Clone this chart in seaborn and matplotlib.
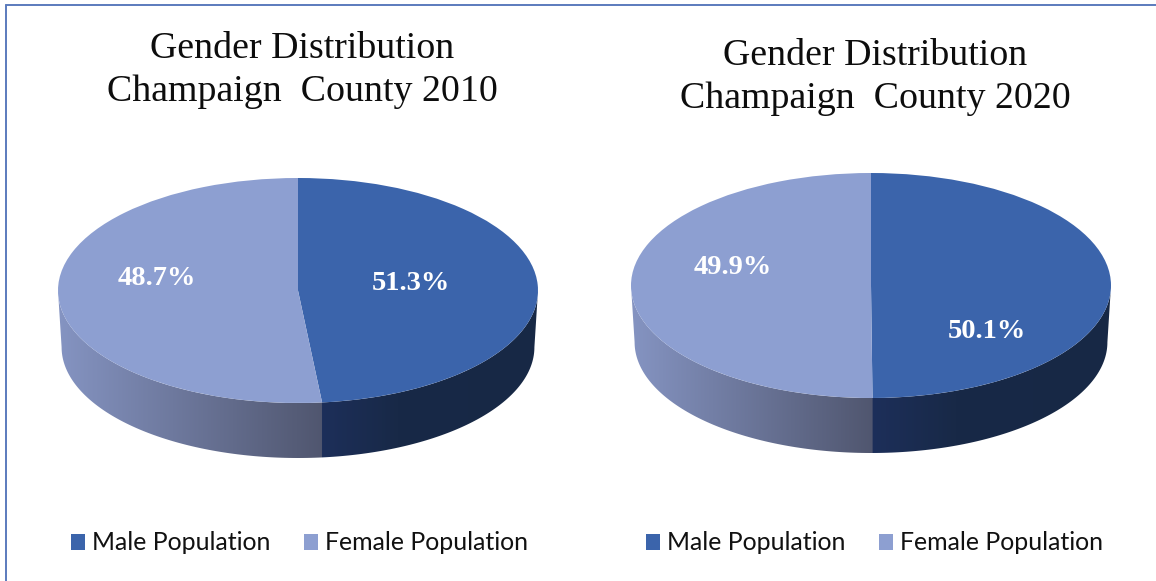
import numpy as np
import seaborn as sns
import matplotlib.pyplot as plt
from matplotlib.colors import to_rgb
from matplotlib.patches import Polygon

W, H = 1156, 581

years = ['2010', '2020']
categories = ['Male Population', 'Female Population']
male_labels = ['51.3%', '50.1%']
female_labels = ['48.7%', '49.9%']
# slice sizes as drawn in the picture, the 2010 one is narrower than its label says
male_slices = [48.4, 49.9]
female_slices = [51.6, 50.1]

MALE, FEMALE = sns.color_palette(['#3b64ab', '#8d9fd1'])

sns.set_theme(style='white')
plt.rcParams['font.family'] = ['Liberation Serif', 'DejaVu Serif']


def px_x(x):
    return x / W


def px_y(y):
    return 1 - y / H


def draw_pie(fig, idx, left, top, title_x, title_y, male_pos, female_pos, legend_x):
    rx, ry, depth = 240, 112.5, 55
    ax = fig.add_axes([px_x(left), px_y(top + 2 * ry + depth), 2 * rx / W, (2 * ry + depth) / H])

    # front wall with a horizontal shading, goes under the top face
    d = depth / ry
    split = np.sin(2 * np.pi * male_slices[idx] / 100)
    xs = np.linspace(-1, 1, 600)
    t = (xs + 1) / (split + 1)
    m = np.clip((xs - split) / (1 - split), 0, 1)
    colors = np.zeros((1, 600, 3))
    for c in range(3):
        f_col = np.interp(t, [0, 1], [to_rgb('#8594c2')[c], to_rgb('#50566f')[c]])
        m_col = np.interp(m, [0, 0.35, 1], [to_rgb('#1d2f5a')[c], to_rgb('#182947')[c], to_rgb('#172845')[c]])
        colors[0, :, c] = np.where(xs < split, f_col, m_col)
    img = ax.imshow(colors, extent=(-1, 1, -1 - d, 1), aspect='auto', zorder=1)
    ang = np.linspace(np.pi, 2 * np.pi, 200)
    upper = np.column_stack([np.cos(ang), np.sin(ang)])
    lower = np.column_stack([0.985 * np.cos(ang), -d - 0.015 + 0.985 * np.sin(ang)])
    wall = Polygon(np.vstack([upper, lower[::-1]]), closed=True, transform=ax.transData)
    img.set_clip_path(wall)

    # top face
    wedges, _ = ax.pie([male_slices[idx], female_slices[idx]], colors=[MALE, FEMALE],
                       startangle=90, counterclock=False, radius=1,
                       wedgeprops={'linewidth': 0, 'zorder': 2})
    ax.set_aspect('auto')
    ax.set_xlim(-1, 1)
    ax.set_ylim(-1 - d, 1)
    ax.set_position([px_x(left), px_y(top + 2 * ry + depth), 2 * rx / W, (2 * ry + depth) / H])
    ax.axis('off')

    for j, line in enumerate(['Gender Distribution', f'Champaign  County {years[idx]}']):
        fig.text(px_x(title_x), px_y(title_y + 43 * j), line, ha='center', va='center',
                 fontsize=27.3, color='#0d0d0d')

    fig.text(px_x(male_pos[0]), px_y(male_pos[1]), male_labels[idx], ha='center', va='center',
             fontsize=20.5, fontweight='bold', color='white')
    fig.text(px_x(female_pos[0]), px_y(female_pos[1]), female_labels[idx], ha='center', va='center',
             fontsize=20.5, fontweight='bold', color='white')

    leg = ax.legend(wedges, categories, ncol=2, loc='center left', frameon=False,
                    bbox_to_anchor=(px_x(legend_x), px_y(543)), bbox_transform=fig.transFigure,
                    borderpad=0, borderaxespad=0, handlelength=0.56, handleheight=0.64,
                    handletextpad=0.28, columnspacing=1.37,
                    prop={'family': 'Lato', 'size': 17.9})
    for text in leg.get_texts():
        text.set_color('#111111')


fig = plt.figure(figsize=(W / 100, H / 100), dpi=100, facecolor='white')

draw_pie(fig, 0, 58, 178, 302, 49, (411, 284), (157, 278), 71)
draw_pie(fig, 1, 631, 173, 875, 56, (987, 332), (733, 267), 646)

# chart frame, only the top and left edges are in the crop
fig.add_artist(plt.Line2D([px_x(6), px_x(6)], [0, px_y(5)], color='#5b7bbd', lw=1.4))
fig.add_artist(plt.Line2D([px_x(6), 1], [px_y(5), px_y(5)], color='#5b7bbd', lw=1.4))

fig.savefig('out.png', dpi=100)
